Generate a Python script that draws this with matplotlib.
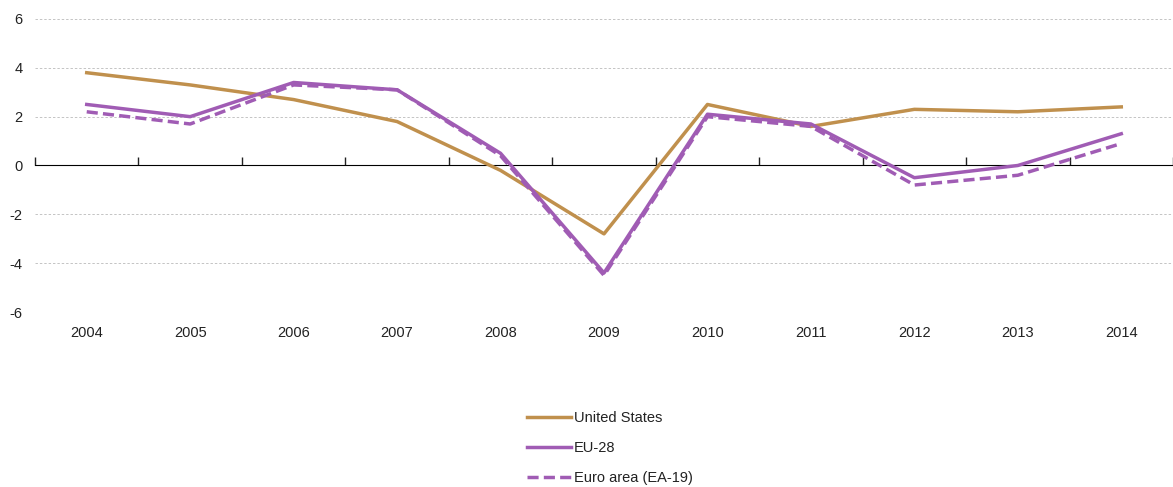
import numpy as np
import matplotlib.pyplot as plt

plt.rcParams['font.family'] = ['Liberation Sans', 'DejaVu Sans']
plt.rcParams['axes.unicode_minus'] = False

years = ['2004', '2005', '2006', '2007', '2008', '2009', '2010', '2011', '2012', '2013', '2014']
us = [3.8, 3.3, 2.7, 1.8, -0.2, -2.8, 2.5, 1.6, 2.3, 2.2, 2.4]
eu28 = [2.5, 2.0, 3.4, 3.1, 0.5, -4.4, 2.1, 1.7, -0.5, 0.0, 1.3]
ea19 = [2.2, 1.7, 3.3, 3.1, 0.4, -4.5, 2.0, 1.6, -0.8, -0.4, 0.9]

brown = '#C0904D'
purple = '#A05CB4'

fig = plt.figure(figsize=(11.73, 4.87), dpi=100)
ax = fig.add_axes([35 / 1173, 1 - 312 / 487, 1 - 35 / 1173, (312 - 19) / 487])

x = np.arange(len(years))
ax.plot(x, us, color=brown, lw=2.5, label='United States')
ax.plot(x, eu28, color=purple, lw=2.5, label='EU-28')
ax.plot(x, ea19, color=purple, lw=2.5, ls=(0, (3.2, 1.5)), label='Euro area (EA-19)')

ax.set_xlim(-0.5, len(years) - 0.5)
ax.set_ylim(-6, 6)
ax.set_yticks(np.arange(-6, 7, 2))
for v in np.arange(-6, 7, 2):
    if v != 0:
        ax.axhline(v, color='#C4C4C4', lw=0.7, ls=(0, (2.5, 2)), zorder=0)

for s in ['top', 'right', 'left', 'bottom']:
    ax.spines[s].set_visible(False)

ax.set_xticks(x)
ax.set_xticklabels(years)
ax.tick_params(axis='x', length=0, pad=10, labelsize=10.5, labelcolor='#222222')
ax.tick_params(axis='y', length=0, pad=9, labelsize=10.5, labelcolor='#222222')

# zero line with boundary ticks
sec = ax.secondary_xaxis(0.5)
sec.set_xticks(np.arange(-0.5, len(years), 1.0))
sec.set_xticklabels([])
sec.tick_params(axis='x', direction='out', length=6, width=1, color='#222222')
sec.spines['bottom'].set_linewidth(1.1)
sec.spines['bottom'].set_color('#222222')

leg = ax.legend(loc='center', bbox_to_anchor=(610 / 1173, 0.08), bbox_transform=fig.transFigure,
                frameon=False, handlelength=3.0, handletextpad=0.2, labelspacing=1.08, fontsize=10.5)
for t in leg.get_texts():
    t.set_color('#222222')

fig.savefig('out.png', dpi=100)
